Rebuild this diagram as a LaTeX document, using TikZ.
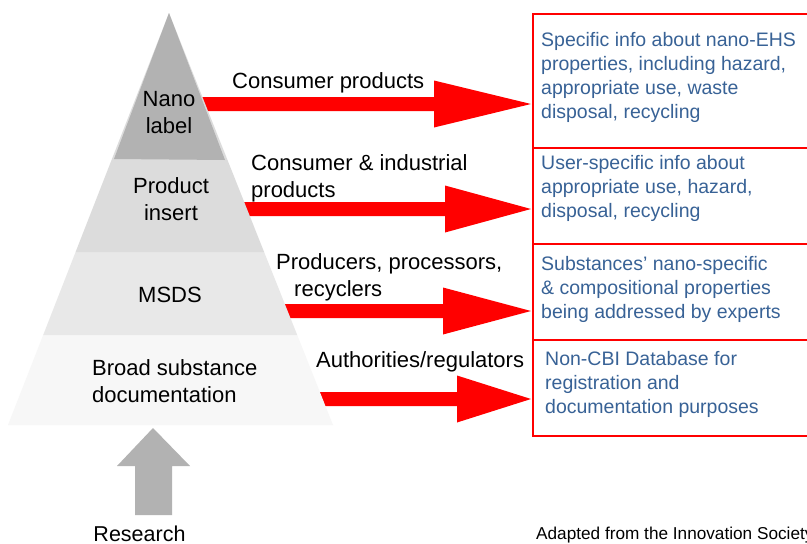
\documentclass[tikz,border=0pt]{standalone}
\usepackage{fontspec}
\setmainfont{Liberation Sans}
\usetikzlibrary{calc}
\definecolor{bandA}{HTML}{B2B2B2}
\definecolor{bandB}{HTML}{DCDCDC}
\definecolor{bandC}{HTML}{E8E8E8}
\definecolor{bandD}{HTML}{F7F7F7}
\definecolor{infoblue}{RGB}{56,98,150}
\definecolor{arrowred}{HTML}{FF0000}
\definecolor{researchgray}{HTML}{B2B2B2}
\tikzset{
  lbl/.style={font=\fontsize{22}{26.5}\selectfont, inner sep=0pt, align=left, anchor=base west},
  plbl/.style={font=\fontsize{22}{26.5}\selectfont, inner sep=0pt, align=center, anchor=base},
  info/.style={font=\fontsize{19.5}{24}\selectfont, text=infoblue, inner sep=0pt, align=left, anchor=base west},
  infobox/.style={draw=arrowred, line width=1.5pt, inner sep=0pt, anchor=north west, minimum width=300pt, minimum height=96pt},
}
% #1 start, #2 tip, #3 head length
\newcommand\blockarrow[3]{%
  \fill[arrowred] let \p1=(#1), \p2=(#2) in
    (\x1,\y1+7pt) -- (\x2-#3pt,\y1+7pt) -- (\x2-#3pt,\y1+23.5pt) -- (\x2,\y2)
    -- (\x2-#3pt,\y1-23.5pt) -- (\x2-#3pt,\y1-7pt) -- (\x1,\y1-7pt) -- cycle;}
\begin{document}
\begin{tikzpicture}[x=1pt,y=-1pt]
\clip (0,0) rectangle (807,544);
\fill[white] (0,0) rectangle (807,544);
% info boxes
\node[infobox, minimum height=134pt] (b1) at (532,13) {};
\node[infobox] (b2) at (532,147) {};
\node[infobox] (b3) at (532,243) {};
\node[infobox] (b4) at (532,339) {};
% arrow anchors
\coordinate (s1) at (190,104); \coordinate (t1) at (531,104);
\coordinate (s2) at (235,209); \coordinate (t2) at (531,209);
\coordinate (s3) at (275,311); \coordinate (t3) at (531,311);
\coordinate (s4) at (310,399); \coordinate (t4) at (531,399);
\blockarrow{s1}{t1}{97}
\blockarrow{s2}{t2}{86}
\blockarrow{s3}{t3}{88}
\blockarrow{s4}{t4}{74}
% pyramid
\fill[bandD] (8,425) -- (333,425) -- (297.2,335) -- (43.2,335) -- cycle;
\fill[bandC] (43.2,335) -- (297.2,335) -- (264.1,252) -- (75.6,252) -- cycle;
\fill[bandB] (75.6,252) -- (264.1,252) -- (169,13) -- cycle;
\fill[bandA] (169,13) -- (225,160) -- (114,159) -- cycle;
% research arrow
\fill[researchgray] (153,428) -- (190,466) -- (172,466) -- (172,515) -- (135,515) -- (135,466) -- (117,466) -- cycle;
% pyramid labels (base anchor = last line's baseline)
\node[plbl] (n1) at (169,133) {Nano\\label};
\node[plbl] (n2) at (171,220) {Product\\insert};
\node[plbl] (n3) at (170,302) {MSDS};
\node[lbl] (n4) at (92,402) {Broad substance\\documentation};
% arrow labels
\node[lbl] (l1) at (232,88) {Consumer products};
\node[lbl] (l2) at (251,197) {Consumer \& industrial\\products};
\node[lbl] (l3) at (276,296) {Producers, processors,\\\hspace*{18pt}recyclers};
\node[lbl] (l4) at (316,367) {Authorities/regulators};
% info texts
\node[info] (i1) at (541,118) {Specific info about nano-EHS\\properties, including hazard,\\appropriate use, waste\\disposal, recycling};
\node[info] (i2) at (541,217) {User-specific info about\\appropriate use, hazard,\\disposal, recycling};
\node[info] (i3) at (541,318) {Substances’ nano-specific\\\& compositional properties\\being addressed by experts};
\node[info] (i4) at (545,413) {Non-CBI Database for\\registration and\\documentation purposes};
% bottom texts
\node[font=\fontsize{21.5}{26}\selectfont, inner sep=0pt, anchor=base] (r) at (139.5,541) {Research};
\node[font=\fontsize{17.2}{20}\selectfont, inner sep=0pt, anchor=base west] (src) at (536,539) {Adapted from the Innovation Society};
\end{tikzpicture}
\end{document}
